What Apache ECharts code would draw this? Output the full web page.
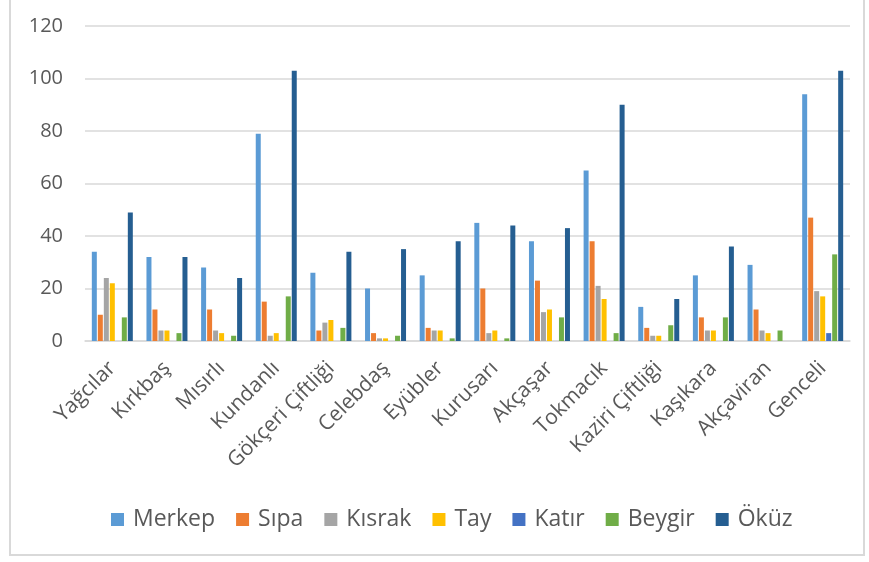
<!DOCTYPE html>
<html>
<head>
<meta charset="utf-8">
<script src="https://cdn.jsdelivr.net/npm/echarts@6/dist/echarts.min.js"></script>
<style>
  html, body { margin: 0; padding: 0; background: #fff; }
  #frame { position: absolute; left: 9px; top: -2px; width: 856px; height: 558px; border: 2px solid #d9d9d9; box-sizing: border-box; }
  #chart { position: absolute; left: 0; top: 0; width: 869px; height: 562px; }
</style>
</head>
<body>
<div id="frame"></div>
<div id="chart"></div>
<script>
const villages = ["Yağcılar", "Kırkbaş", "Mısırlı", "Kundanlı", "Gökçeri Çiftliği", "Celebdaş", "Eyübler",
    "Kurusarı", "Akçaşar", "Tokmacık", "Kaziri Çiftliği", "Kaşıkara", "Akçaviran", "Genceli"];

const merkep = [34, 32, 28, 79, 26, 20, 25, 45, 38, 65, 13, 25, 29, 94];
const sipa   = [10, 12, 12, 15, 4, 3, 5, 20, 23, 38, 5, 9, 12, 47];
const kisrak = [24, 4, 4, 2, 7, 1, 4, 3, 11, 21, 2, 4, 4, 19];
const tay    = [22, 4, 3, 3, 8, 1, 4, 4, 12, 16, 2, 4, 3, 17];
const katir  = [0, 0, 0, 0, 0, 0, 0, 0, 0, 0, 0, 0, 0, 3];
const beygir = [9, 3, 2, 17, 5, 2, 1, 1, 9, 3, 6, 9, 4, 33];
const okuz   = [49, 32, 24, 103, 34, 35, 38, 44, 43, 90, 16, 36, 0, 103];

const yTicks = [0, 20, 40, 60, 80, 100, 120];

const seriesDefs = [
    ["Merkep", merkep, "#5b9bd5"],
    ["Sıpa", sipa, "#ed7d31"],
    ["Kısrak", kisrak, "#a5a5a5"],
    ["Tay", tay, "#ffc000"],
    ["Katır", katir, "#4472c4"],
    ["Beygir", beygir, "#70ad47"],
    ["Öküz", okuz, "#255e91"]
];

const font = "'Open Sans', 'Noto Sans', sans-serif";
const chart = echarts.init(document.getElementById("chart"));
chart.setOption({
    animation: false,
    grid: { left: 85, right: 19, top: 26, bottom: 221, containLabel: false },
    legend: {
        left: 106, top: 503,
        itemWidth: 13, itemHeight: 13, itemGap: 21,
        icon: "rect",
        textStyle: { fontFamily: font, fontSize: 23, color: "#595959", padding: [0, 0, 0, 4] },
        data: seriesDefs.map(d => d[0])
    },
    xAxis: {
        type: "category",
        data: villages,
        axisLine: { lineStyle: { color: "#d9d9d9", width: 1.5 } },
        axisTick: { show: false },
        axisLabel: { rotate: 45, interval: 0, margin: 24, fontFamily: font, fontSize: 21, color: "#595959" }
    },
    yAxis: {
        type: "value",
        min: yTicks[0], max: yTicks[yTicks.length - 1], interval: 20,
        axisLine: { show: false },
        axisTick: { show: false },
        splitLine: { lineStyle: { color: "#d9d9d9", width: 1.5 } },
        axisLabel: { margin: 22, fontFamily: font, fontSize: 20, color: "#595959" }
    },
    series: seriesDefs.map(d => ({
        name: d[0],
        type: "bar",
        data: d[1],
        barWidth: 5,
        barGap: "20%",
        itemStyle: { color: d[2] }
    }))
});
</script>
</body>
</html>
